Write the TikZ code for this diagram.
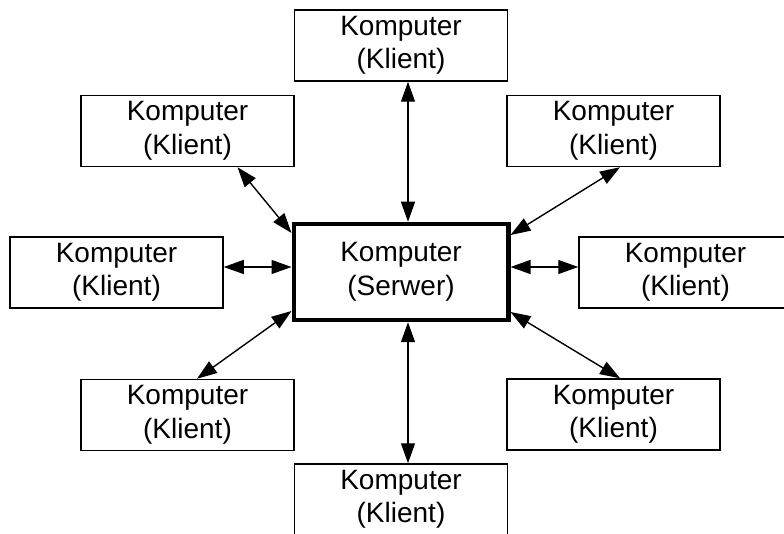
\documentclass[tikz,border=0pt]{standalone}
\usepackage{fontspec}
\setmainfont{Liberation Sans}
\usetikzlibrary{arrows.meta}
\begin{document}
\begin{tikzpicture}[x=1pt,y=1pt,
  client/.style={draw, line width=1.5pt, minimum width=213pt, minimum height=71pt, inner sep=0pt,
    align=center, font=\fontsize{28pt}{33.5pt}\selectfont},
  server/.style={client, line width=4.5pt, minimum width=214.5pt, minimum height=96pt},
  link/.style={line width=1.4pt, {Triangle[length=20pt,width=14pt]}-{Triangle[length=20pt,width=14pt]}}]
\useasboundingbox (0,0) rectangle (784,533);
\clip (0,0) rectangle (784,533);
\node[server] (c) at (401,261) {Komputer\\(Serwer)};
\node[client] (top) at (401,487.5) {Komputer\\(Klient)};
\node[client] (bot) at (401,33.5) {Komputer\\(Klient)};
\node[client] (ml) at (116.5,260.5) {Komputer\\(Klient)};
\node[client] (mr) at (685.5,260.5) {Komputer\\(Klient)};
\node[client] (ul) at (187.5,402) {Komputer\\(Klient)};
\node[client] (ur) at (613.5,402) {Komputer\\(Klient)};
\node[client] (ll) at (187.5,118) {Komputer\\(Klient)};
\node[client] (lr) at (613.5,118.5) {Komputer\\(Klient)};
\draw[link] ([xshift=7pt]top.south) -- ([xshift=7pt]c.north);
\draw[link] ([xshift=7pt]c.south) -- ([xshift=7pt]bot.north);
\draw[link] ([yshift=5.5pt]ml.east) -- ([yshift=5pt]c.west);
\draw[link] ([yshift=5pt]c.east) -- ([yshift=5.5pt]mr.west);
\draw[link] ([xshift=50pt]ul.south) -- ([yshift=39pt]c.west);
\draw[link] ([xshift=6.5pt]ur.south) -- ([yshift=37pt]c.east);
\draw[link] ([xshift=9.5pt]ll.north) -- ([yshift=-39pt]c.west);
\draw[link] ([xshift=6.5pt]lr.north) -- ([yshift=-40pt]c.east);
\end{tikzpicture}
\end{document}
